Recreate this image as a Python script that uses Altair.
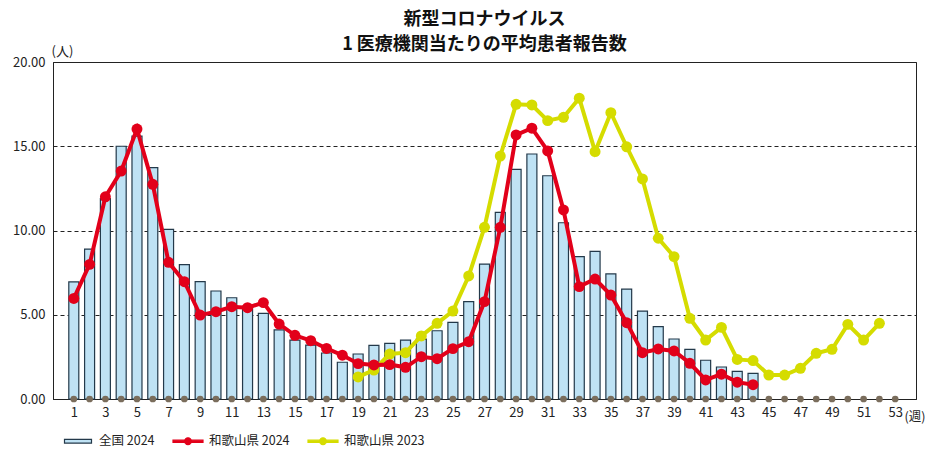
import altair as alt
import pandas as pd

FONT = "Noto Sans CJK JP"

weeks = list(range(1, 54))
x_ticks = list(range(1, 54, 2))
y_ticks = [0, 5, 10, 15, 20]
series_names = ["全国 2024", "和歌山県 2024", "和歌山県 2023"]

national_weeks = list(range(1, 45))
national_2024 = [6.95, 8.9, 11.9, 15.0, 15.6, 13.73, 10.07, 7.97, 6.96, 6.41,
                 6.01, 5.5, 5.08, 4.1, 3.5, 3.2, 2.73, 2.18, 2.67, 3.18,
                 3.3, 3.5, 3.55, 4.05, 4.55, 5.78, 8.01, 11.08, 13.63, 14.54,
                 13.25, 10.46, 8.45, 8.76, 7.42, 6.52, 5.22, 4.29, 3.56, 2.95,
                 2.3, 1.9, 1.64, 1.52]

wakayama_2024_weeks = list(range(1, 45))
wakayama_2024 = [5.97, 7.99, 12.0, 13.53, 16.02, 12.74, 8.11, 6.96, 4.98, 5.18,
                 5.48, 5.42, 5.72, 4.45, 3.78, 3.46, 3.0, 2.6, 2.1, 2.02,
                 2.04, 1.88, 2.51, 2.39, 2.99, 3.4, 5.78, 10.19, 15.67, 16.07,
                 14.72, 11.22, 6.67, 7.12, 6.17, 4.53, 2.75, 2.97, 2.85, 2.12,
                 1.13, 1.47, 1.0, 0.85]

wakayama_2023_weeks = list(range(19, 53))
wakayama_2023 = [1.31, 1.72, 2.67, 2.75, 3.74, 4.49, 5.22, 7.3, 10.19, 14.42,
                 17.49, 17.45, 16.52, 16.72, 17.85, 14.68, 16.99, 14.97, 13.06, 9.54,
                 8.45, 4.79, 3.5, 4.25, 2.35, 2.28, 1.42, 1.42, 1.82, 2.71,
                 2.95, 4.43, 3.5, 4.49]

zero_values = [0.0] * len(weeks)

nat_df = pd.DataFrame({"week": national_weeks, "value": national_2024})
w24_df = pd.DataFrame({"week": wakayama_2024_weeks, "value": wakayama_2024})
w23_df = pd.DataFrame({"week": wakayama_2023_weeks, "value": wakayama_2023})
zero_df = pd.DataFrame({"week": weeks, "value": zero_values})
legend_df = pd.DataFrame({"series": series_names})

BAR_FILL = "#bfe2f4"
BAR_STROKE = "#23394a"
RED = "#e2001a"
YELLOW = "#d5dc00"
GRAY = "#7a6d5c"

x_enc = alt.X(
    "week:Q",
    scale=alt.Scale(domain=[0, 54], nice=False, zero=False),
    axis=alt.Axis(
        values=x_ticks, grid=False, ticks=False, labelPadding=7,
        labelFontSize=13, labelFont=FONT, labelColor="#222",
        domainColor="#222", labelFlush=False,
        title="(週)", titleFont=FONT, titleFontSize=12.5, titleFontWeight="normal",
        titleColor="#222", titleAngle=0, titleAlign="left", titleBaseline="middle",
        titleX=851, titleY=17,
    ),
)
y_enc = alt.Y(
    "value:Q",
    scale=alt.Scale(domain=[0, 20], nice=False),
    axis=alt.Axis(
        values=y_ticks, format=".2f", grid=True, gridColor="#222",
        gridDash=[4, 3], gridWidth=1, ticks=False, labelPadding=8,
        labelFontSize=13, labelFont=FONT, labelColor="#222", domainColor="#222",
        title="(人)", titleFont=FONT, titleFontSize=13, titleFontWeight="normal",
        titleColor="#222", titleAngle=0, titleAlign="left", titleBaseline="middle",
        titleX=-2, titleY=-11,
    ),
)

bars = alt.Chart(nat_df).mark_bar(
    size=10, fill=BAR_FILL, stroke=BAR_STROKE, strokeWidth=1.2
).encode(x=x_enc, y=y_enc)

zeros = alt.Chart(zero_df).mark_point(
    filled=True, color=GRAY, size=45, opacity=1
).encode(x=x_enc, y=y_enc)

y23_line = alt.Chart(w23_df).mark_line(color=YELLOW, strokeWidth=4).encode(x=x_enc, y=y_enc)
y23_pts = alt.Chart(w23_df).mark_point(filled=True, color=YELLOW, size=120, opacity=1).encode(x=x_enc, y=y_enc)

r24_line = alt.Chart(w24_df).mark_line(color=RED, strokeWidth=4).encode(x=x_enc, y=y_enc)
r24_pts = alt.Chart(w24_df).mark_point(filled=True, color=RED, size=120, opacity=1).encode(x=x_enc, y=y_enc)

rect_path = "M-0.9,-0.12H0.9V0.12H-0.9Z"
line_path = ("M-1,-0.07H1V0.07H-1Z "
             "M-0.23,0A0.23,0.23 0 1,1 0.23,0A0.23,0.23 0 1,1 -0.23,0Z")

legend_layer = alt.Chart(legend_df).mark_point(
    filled=True, opacity=1, clip=True, strokeWidth=1.2
).encode(
    x=alt.value(-500),
    y=alt.value(-500),
    fill=alt.Fill("series:N", scale=alt.Scale(domain=series_names, range=[BAR_FILL, RED, YELLOW]),
                  legend=alt.Legend(
                      title=None, orient="none", legendX=9, legendY=363, direction="horizontal",
                      symbolSize=900, labelFontSize=12.5, labelFont=FONT, labelColor="#222",
                      columnPadding=15, labelOffset=5, symbolStrokeWidth=1.2)),
    stroke=alt.Stroke("series:N", scale=alt.Scale(domain=series_names, range=[BAR_STROKE, RED, YELLOW])),
    shape=alt.Shape("series:N", scale=alt.Scale(domain=series_names, range=[rect_path, line_path, line_path])),
)

chart = alt.layer(bars, zeros, y23_line, y23_pts, r24_line, r24_pts, legend_layer).properties(
    width=863,
    height=337,
    autosize=alt.AutoSizeParams(type="none"),
    padding={"left": 45, "top": 54, "right": 10, "bottom": 50},
    background="white",
    title=alt.TitleParams(
        text="新型コロナウイルス",
        subtitle="1 医療機関当たりの平均患者報告数",
        font=FONT, fontSize=18, fontWeight="bold", color="#111",
        subtitleFont=FONT, subtitleFontSize=18, subtitleFontWeight="bold",
        subtitleColor="#111", subtitlePadding=7,
        anchor="middle", offset=-9,
    ),
).configure_view(stroke="#222", strokeWidth=1)

chart.save("out.html", embed_options={"renderer": "svg", "actions": False})
